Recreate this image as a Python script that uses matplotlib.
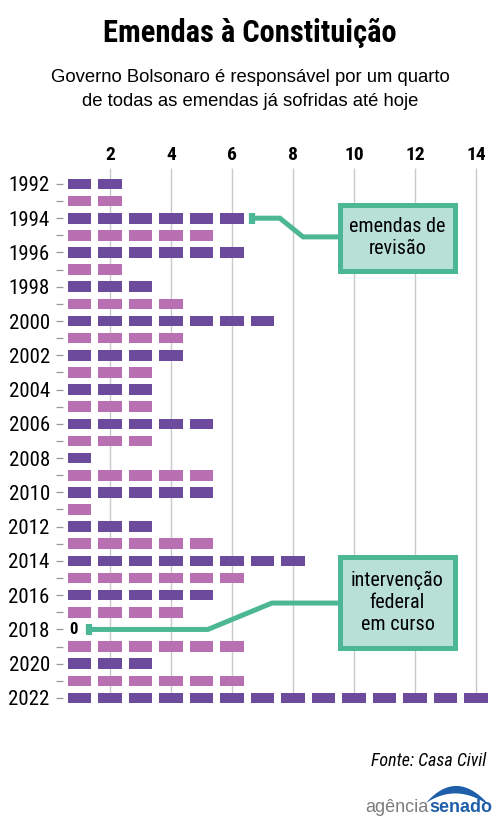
import os
import numpy as np
import matplotlib
matplotlib.use('Agg')
import matplotlib.pyplot as plt
from matplotlib import font_manager as fm
from matplotlib.patches import Rectangle, Polygon

# ---------------- data ----------------
years = list(range(1992, 2023))
counts = [2, 2, 6, 5, 6, 2, 3, 4, 7, 4, 4, 3, 3, 3, 5, 3, 1, 5, 5, 1,
          3, 5, 8, 6, 5, 4, 0, 6, 3, 6, 14]
xticks = [2, 4, 6, 8, 10, 12, 14]
title = "Emendas à Constituição"
subtitle = ["Governo Bolsonaro é responsável por um quarto",
            "de todas as emendas já sofridas até hoje"]
note1 = "emendas de\nrevisão"
note2 = "intervenção\nfederal\nem curso"
source = "Fonte: Casa Civil"

PURPLE = '#6d4b9c'
PINK = '#b870b2'
TEAL = '#4cb795'
TEAL_FILL = '#b8e0d6'
GRID = '#c9c9c9'

# ---------------- fonts ----------------
_files = {os.path.basename(f.fname): f.fname for f in fm.fontManager.ttflist}


def _fp(cands, size, fallback):
    for n in cands:
        if n in _files:
            p = fm.FontProperties(fname=_files[n])
            p.set_size(size)
            return p
    p = fm.FontProperties(**fallback)
    p.set_size(size)
    return p


COND_REG = ['RobotoCondensed-Regular.ttf', 'LiberationSansNarrow-Regular.ttf',
            'DejaVuSansCondensed.ttf']
COND_BOLD = ['RobotoCondensed-Bold.ttf', 'LiberationSansNarrow-Bold.ttf',
             'DejaVuSansCondensed-Bold.ttf']
COND_IT = ['RobotoCondensed-Italic.ttf', 'LiberationSansNarrow-Italic.ttf',
           'DejaVuSansCondensed-Oblique.ttf']


def creg(s):
    return _fp(COND_REG, s, dict(family='DejaVu Sans', stretch='condensed'))


def cbold(s):
    return _fp(COND_BOLD, s, dict(family='DejaVu Sans', stretch='condensed', weight='bold'))


def cit(s):
    return _fp(COND_IT, s, dict(family='DejaVu Sans', stretch='condensed', style='italic'))


def sans(s, bold=False):
    return fm.FontProperties(family=['Liberation Sans', 'DejaVu Sans'],
                             weight='bold' if bold else 'normal', size=s)


# ---------------- figure ----------------
W, H = 500, 833
fig = plt.figure(figsize=(W / 100, H / 100), dpi=100)
fig.patch.set_facecolor('white')

ax_l, ax_r, ax_t, ax_b = 63, 494.3, 168, 705
ax = fig.add_axes([ax_l / W, 1 - ax_b / H, (ax_r - ax_l) / W, (ax_b - ax_t) / H])
ax.set_xlim(0.46, 14.6)
ax.set_ylim(2022.41, 1991.07)
for s in ax.spines.values():
    s.set_visible(False)

# grid
ax.vlines(xticks, 1991.07, years[-1], color=GRID, lw=1, zorder=0)

# bars: one dash per amendment
seg_w, seg_h = 0.78, 0.62
for yr, n in zip(years, counts):
    if n == 0:
        continue
    col = PURPLE if yr % 2 == 0 else PINK
    ks = np.arange(1, n + 1)
    ax.barh([yr] * n, seg_w, left=ks - seg_w / 2, height=seg_h, color=col,
            edgecolor='none', zorder=2)

# zero label
for yr, n in zip(years, counts):
    if n == 0:
        ax.text(0.79, yr, "0", fontproperties=cbold(12), ha='center', va='center',
                color='black', zorder=3)

# y ticks
ax.set_yticks(years)
ax.set_yticklabels([str(y) if y % 2 == 0 else '' for y in years])
for lab in ax.get_yticklabels():
    lab.set_fontproperties(creg(15))
ax.tick_params(axis='y', length=5, width=0.9, color='#9a9a9a', pad=4.5, labelcolor='black')

# x ticks on top
ax.xaxis.tick_top()
ax.set_xticks(xticks)
ax.set_xticklabels([str(v) for v in xticks])
for lab in ax.get_xticklabels():
    lab.set_fontproperties(cbold(14))
ax.tick_params(axis='x', length=0, pad=3)

# annotation 1 (emendas de revisão)
ax.plot([6.66, 7.57, 8.33, 9.6], [1994, 1994, 1995.09, 1995.09], color=TEAL, lw=3.6,
        solid_capstyle='butt', solid_joinstyle='miter', clip_on=False, zorder=4)
ax.plot([6.66, 6.66], [1993.68, 1994.32], color=TEAL, lw=4.5, solid_capstyle='butt',
        clip_on=False, zorder=4)
ax.add_patch(Rectangle((9.54, 1993.23), 13.31 - 9.54, 1997.08 - 1993.23,
                       facecolor=TEAL_FILL, edgecolor=TEAL, lw=3.6, clip_on=False, zorder=5))
ax.text((9.54 + 13.31) / 2, 1995.12, note1, fontproperties=creg(14.5), ha='center',
        va='center', linespacing=1.15, zorder=6)

# annotation 2 (intervenção federal)
ax.plot([1.30, 5.21, 7.31, 9.6], [2018, 2018, 2016.46, 2016.46], color=TEAL, lw=3.6,
        solid_capstyle='butt', solid_joinstyle='miter', clip_on=False, zorder=4)
ax.plot([1.30, 1.30], [2017.68, 2018.32], color=TEAL, lw=4.5, solid_capstyle='butt',
        clip_on=False, zorder=4)
ax.add_patch(Rectangle((9.54, 2013.77), 13.31 - 9.54, 2019.08 - 2013.77,
                       facecolor=TEAL_FILL, edgecolor=TEAL, lw=3.6, clip_on=False, zorder=5))
ax.text((9.54 + 13.31) / 2, 2016.4, note2, fontproperties=creg(14.5), ha='center',
        va='center', linespacing=1.2, zorder=6)

# ---------------- overlay (pixel coords) ----------------
ov = fig.add_axes([0, 0, 1, 1], zorder=10)
ov.set_xlim(0, W)
ov.set_ylim(H, 0)
ov.axis('off')
ov.patch.set_alpha(0)

ov.text(250, 33, title, fontproperties=cbold(22), ha='center', va='center')
ov.text(250, 77, subtitle[0], fontproperties=sans(13.3), ha='center', va='center')
ov.text(250, 101, subtitle[1], fontproperties=sans(13.3), ha='center', va='center')
ov.text(486, 761, source, fontproperties=cit(13), ha='right', va='center')

# logo
ov.text(428, 807, "agência", fontproperties=sans(13), color='#7d7d7d',
        ha='right', va='center')
ov.text(429, 807, "senado", fontproperties=sans(13, bold=True), color='#1f5ea8',
        ha='left', va='center')
t = np.linspace(0, 1, 40)
p0, p2 = np.array([426.0, 803.0]), np.array([490.0, 806.0])


def bez(apex_y):
    mid = (p0 + p2) / 2
    c = np.array([457.0, 2 * apex_y - mid[1]])
    return ((1 - t)[:, None] ** 2 * p0 + 2 * ((1 - t) * t)[:, None] * c
            + (t ** 2)[:, None] * p2)


outer = bez(786.0)
inner = bez(793.5)[::-1]
ov.add_patch(Polygon(np.vstack([outer, inner]), closed=True, facecolor='#1f5ea8',
                     edgecolor='none'))

fig.savefig('out.png', dpi=100, facecolor='white')
